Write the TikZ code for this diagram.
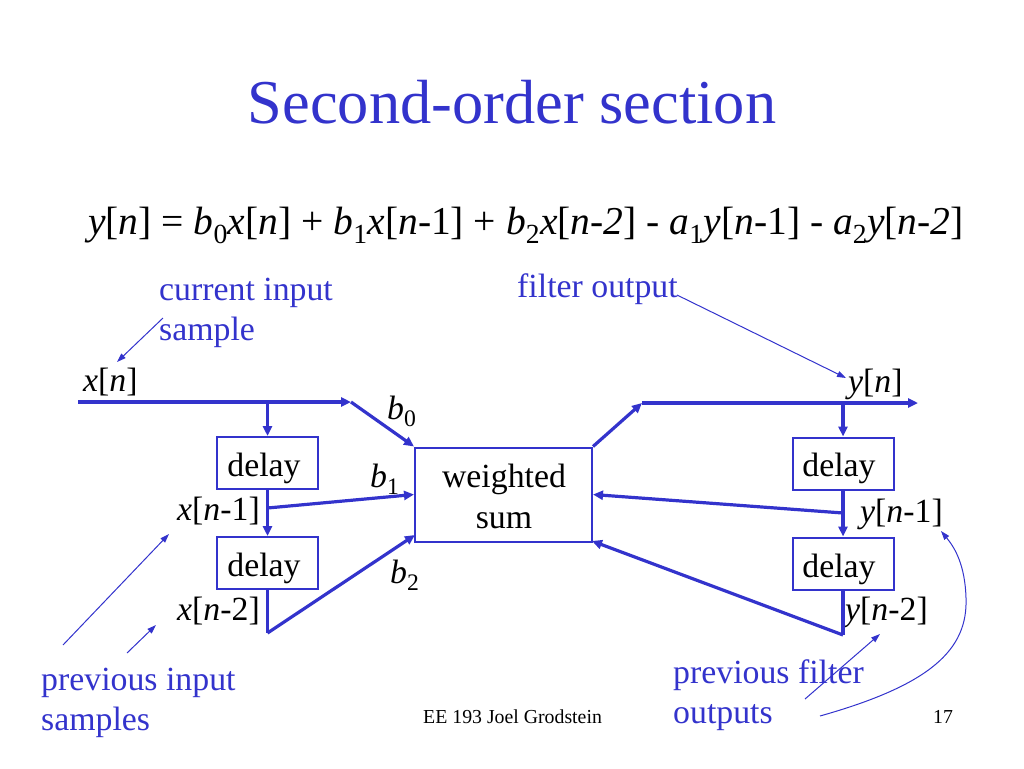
\documentclass[tikz,border=0pt]{standalone}
\usepackage{fontspec}
\setmainfont{Liberation Serif}
\usetikzlibrary{arrows.meta}
\definecolor{lblue}{RGB}{51,51,204}
\begin{document}
\begin{tikzpicture}[x=1pt,y=-1pt,
  sig/.style={draw=lblue, line width=3.2pt, -{Triangle[length=10pt,width=9pt]}},
  sigplain/.style={draw=lblue, line width=3.2pt},
  note/.style={draw=lblue, line width=1pt, -{Triangle[length=9pt,width=6pt]}},
  dbox/.style={draw=lblue, line width=2pt, minimum width=101pt, minimum height=52pt, inner sep=0pt},
  wbox/.style={draw=lblue, line width=2pt, minimum width=177pt, minimum height=94pt, inner sep=0pt},
  lab/.style={font=\fontsize{33.8}{40}\selectfont, inner sep=0pt, text=black},
  blab/.style={font=\fontsize{33.8}{40}\selectfont, inner sep=0pt, text=lblue},
]
\useasboundingbox (0,0) rectangle (1024,768);

% title and equation
\node[font=\fontsize{62.4}{70}\selectfont, text=lblue, anchor=base, inner sep=0pt] (title) at (512,123) {Second-order section};
\node[font=\fontsize{39.5}{44}\selectfont, anchor=base west, inner sep=0pt] (eq) at (88,234)
 {\textit{y}[\textit{n}] = \textit{b}\textsubscript{0}\textit{x}[\textit{n}] + \textit{b}\textsubscript{1}\textit{x}[\textit{n}-1] + \textit{b}\textsubscript{2}\textit{x}[\textit{n-2}] - \textit{a}\textsubscript{1}\textit{y}[\textit{n}-1] - \textit{a}\textsubscript{2}\textit{y}[\textit{n-2}]};

% boxes
\node[dbox] (d1) at (267.5,463) {};
\node[dbox] (d2) at (267.5,563) {};
\node[dbox] (d3) at (843,463.5) {};
\node[dbox] (d4) at (843,563.5) {};
\node[wbox] (ws) at (503.5,494.5) {};
\node[lab, anchor=base] (d1t) at (264,476) {delay};
\node[lab, anchor=base] (d2t) at (264,576) {delay};
\node[lab, anchor=base] (d3t) at (839,476) {delay};
\node[lab, anchor=base] (d4t) at (839,577) {delay};
\node[lab, anchor=base] (wst1) at (504,487) {weighted};
\node[lab, anchor=base] (wst2) at (504,528) {sum};

% signal labels
\node[lab, anchor=base west] (lxn) at (83,391) {\textit{x}[\textit{n}]};
\node[lab, anchor=base east] (lxn1) at (260,520) {\textit{x}[\textit{n}-1]};
\node[lab, anchor=base east] (lxn2) at (260,620) {\textit{x}[\textit{n}-2]};
\node[lab, anchor=base west] (lyn) at (848,392) {\textit{y}[\textit{n}]};
\node[lab, anchor=base west] (lyn1) at (860,522) {\textit{y}[\textit{n}-1]};
\node[lab, anchor=base west] (lyn2) at (845,620) {\textit{y}[\textit{n}-2]};
\node[lab, anchor=base west] (lb0) at (387,419) {\textit{b}\textsubscript{0}};
\node[lab, anchor=base west] (lb1) at (370,487) {\textit{b}\textsubscript{1}};
\node[lab, anchor=base west] (lb2) at (390,583) {\textit{b}\textsubscript{2}};

% junction coordinates
\coordinate (xin) at (78,402);
\coordinate (j0) at (267.5,402);
\coordinate (k0) at (351,402);
\coordinate (j1) at (267.5,508);
\coordinate (j2) at (267.5,633);
\coordinate (b2end) at (415,535);
\coordinate (k1) at (642,403);
\coordinate (yout) at (918,403);
\coordinate (m0) at (843,403);
\coordinate (m1) at (843,513);
\coordinate (m2) at (843,635);
\coordinate (a2end) at (592,541);

% left signal path
\draw[sig] (xin) -- (k0);
\draw[sig] (k0) -- (ws.north west);
\draw[sig] (j0) -- (d1.north);
\draw[sig] (d1.south) -- (d2.north);
\draw[sig] (j1) -- (ws.west);
\draw[sigplain] (d2.south) -- (j2);
\draw[sig] (j2) -- (b2end);

% right signal path
\draw[sig] (ws.north east) -- (k1);
\draw[sig] (k1) -- (yout);
\draw[sig] (m0) -- (d3.north);
\draw[sig] (d3.south) -- (d4.north);
\draw[sig] (m1) -- (ws.east);
\draw[sigplain] (d4.south) -- (m2);
\draw[sig] (m2) -- (a2end);

% annotations
\node[blab, anchor=base west] (cin1) at (159,300) {current input};
\node[blab, anchor=base west] (cin2) at (159,340) {sample};
\node[blab, anchor=base west] (fout) at (517,297) {filter output};
\node[blab, anchor=base west] (pin1) at (41,690) {previous input};
\node[blab, anchor=base west] (pin2) at (41,730) {samples};
\node[blab, anchor=base west] (pout1) at (673,683) {previous filter};
\node[blab, anchor=base west] (pout2) at (673,723) {outputs};

\coordinate (c1s) at (163,318);
\coordinate (c1e) at (117,362);
\coordinate (f1s) at (677,295);
\coordinate (f1e) at (846,378);
\coordinate (p1s) at (63,645);
\coordinate (p1e) at (169,534);
\coordinate (p2s) at (127,653);
\coordinate (p2e) at (156,625);
\coordinate (q1s) at (805,699);
\coordinate (q1e) at (880,634);
\coordinate (q2s) at (820,716);
\coordinate (q2m) at (966,598);
\coordinate (q2e) at (941,531);
\draw[note] (c1s) -- (c1e);
\draw[note] (f1s) -- (f1e);
\draw[note] (p1s) -- (p1e);
\draw[note] (p2s) -- (p2e);
\draw[note] (q1s) -- (q1e);
\draw[note] (q2s) .. controls (930,685) and (968,650) .. (q2m) .. controls (965,565) and (955,548) .. (q2e);

% footer
\node[font=\fontsize{19.8}{22}\selectfont, anchor=base west, inner sep=0pt] (foot) at (423,723) {EE 193 Joel Grodstein};
\node[font=\fontsize{19.8}{22}\selectfont, anchor=base west, inner sep=0pt] (pg) at (933,723) {17};
\end{tikzpicture}
\end{document}
